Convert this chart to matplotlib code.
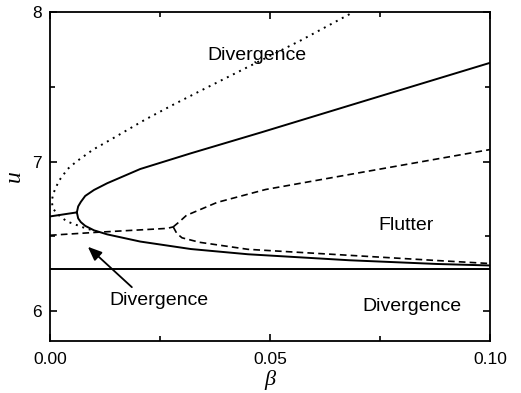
import numpy as np
import matplotlib
matplotlib.use("Agg")
import matplotlib.pyplot as plt
from matplotlib.ticker import MultipleLocator, FormatStrFormatter

plt.rcParams['font.family'] = ['Liberation Sans', 'DejaVu Sans']

# ------------------------------------------------------------------
# stability boundaries u(beta)
# ------------------------------------------------------------------
# solid: left stub up to the cusp, then upper and lower branches
solid_left_b = [0.0, 0.0061]
solid_left_u = [6.633, 6.66]

solid_up_b = [0.0061, 0.0064, 0.0070, 0.0080, 0.010, 0.013, 0.0205, 0.032, 0.048, 0.072, 0.1]
solid_up_u = [6.66, 6.70, 6.73, 6.77, 6.81, 6.855, 6.95, 7.055, 7.195, 7.41, 7.66]

solid_lo_b = [0.0061, 0.0064, 0.0070, 0.0080, 0.010, 0.013, 0.0205, 0.032, 0.045, 0.068, 0.088, 0.1]
solid_lo_u = [6.66, 6.62, 6.595, 6.57, 6.54, 6.513, 6.465, 6.415, 6.38, 6.34, 6.315, 6.305]

# dashed: lower stub up to the split, then two branches
dash_left_b = [0.0, 0.0107, 0.0266, 0.028]
dash_left_u = [6.507, 6.527, 6.553, 6.563]

dash_up_b = [0.028, 0.0295, 0.031, 0.038, 0.049, 0.068, 0.1]
dash_up_u = [6.563, 6.60, 6.64, 6.727, 6.813, 6.913, 7.08]

dash_lo_b = [0.028, 0.0288, 0.030, 0.034, 0.045, 0.068, 0.088, 0.1]
dash_lo_u = [6.563, 6.52, 6.49, 6.46, 6.413, 6.373, 6.338, 6.318]

# dotted: C-shaped curve leaving the lower solid branch
dot_b = [0.0107, 0.0075, 0.0038, 0.0016, 0.0006, 0.0004, 0.0008, 0.0020, 0.0040, 0.0060,
         0.0098, 0.014, 0.0216, 0.028, 0.034, 0.0455, 0.057, 0.069]
dot_u = [6.53, 6.56, 6.60, 6.65, 6.69, 6.74, 6.79, 6.87, 6.95, 7.00,
         7.08, 7.15, 7.28, 7.38, 7.47, 7.64, 7.81, 8.0]

u_flat = 2 * np.pi

# region labels
regions = ["Divergence", "Flutter", "Divergence", "Divergence"]
region_b = [0.047, 0.081, 0.0823, 0.0248]
region_u = [7.71, 6.57, 6.03, 6.07]

# ------------------------------------------------------------------
# plot
# ------------------------------------------------------------------
fig = plt.figure(figsize=(5.21, 3.93), dpi=100)
ax = fig.add_axes([0.096, 0.1323, 0.8445, 0.8372])

lw = 1.4
k = "black"
dashed = (0, (4, 2.5))
ax.plot(solid_left_b, solid_left_u, color=k, lw=lw)
ax.plot(solid_up_b, solid_up_u, color=k, lw=lw)
ax.plot(solid_lo_b, solid_lo_u, color=k, lw=lw)
ax.plot(dash_left_b, dash_left_u, color=k, lw=1.2, ls=dashed)
ax.plot(dash_up_b, dash_up_u, color=k, lw=1.2, ls=dashed)
ax.plot(dash_lo_b, dash_lo_u, color=k, lw=1.2, ls=dashed)
ax.plot(dot_b, dot_u, color=k, lw=1.4, ls=(0, (1, 2.5)))
ax.axhline(u_flat, color=k, lw=lw)

for txt, b, u in zip(regions, region_b, region_u):
    ax.text(b, u, txt, fontsize=14, ha="center", va="center")

ax.annotate("", xy=(0.0086, 6.43), xytext=(0.0186, 6.16),
            arrowprops=dict(arrowstyle="-|>,head_length=0.6,head_width=0.25",
                            color=k, lw=1.3, mutation_scale=14,
                            shrinkA=0, shrinkB=0))

ax.set_xlim(0, 0.1)
ax.set_ylim(5.8, 8)
ax.xaxis.set_major_locator(MultipleLocator(0.05))
ax.xaxis.set_minor_locator(MultipleLocator(0.025))
ax.yaxis.set_major_locator(MultipleLocator(1))
ax.yaxis.set_minor_locator(MultipleLocator(0.5))
ax.xaxis.set_major_formatter(FormatStrFormatter("%.2f"))

ax.tick_params(which="both", direction="in", top=True, right=True, width=1.2)
ax.tick_params(which="major", length=5, labelsize=12.5)
ax.tick_params(which="minor", length=3.5)
ax.tick_params(axis="x", pad=8)
ax.tick_params(axis="y", pad=6)
for s in ax.spines.values():
    s.set_linewidth(1.3)

ax.set_xlabel("β", fontsize=16, style="italic",
              family=["Liberation Serif", "DejaVu Serif"], labelpad=2)
ax.set_ylabel("u", fontsize=17, style="italic",
              family=["Liberation Serif", "DejaVu Serif"], labelpad=5)

fig.savefig("out.png", dpi=100)
